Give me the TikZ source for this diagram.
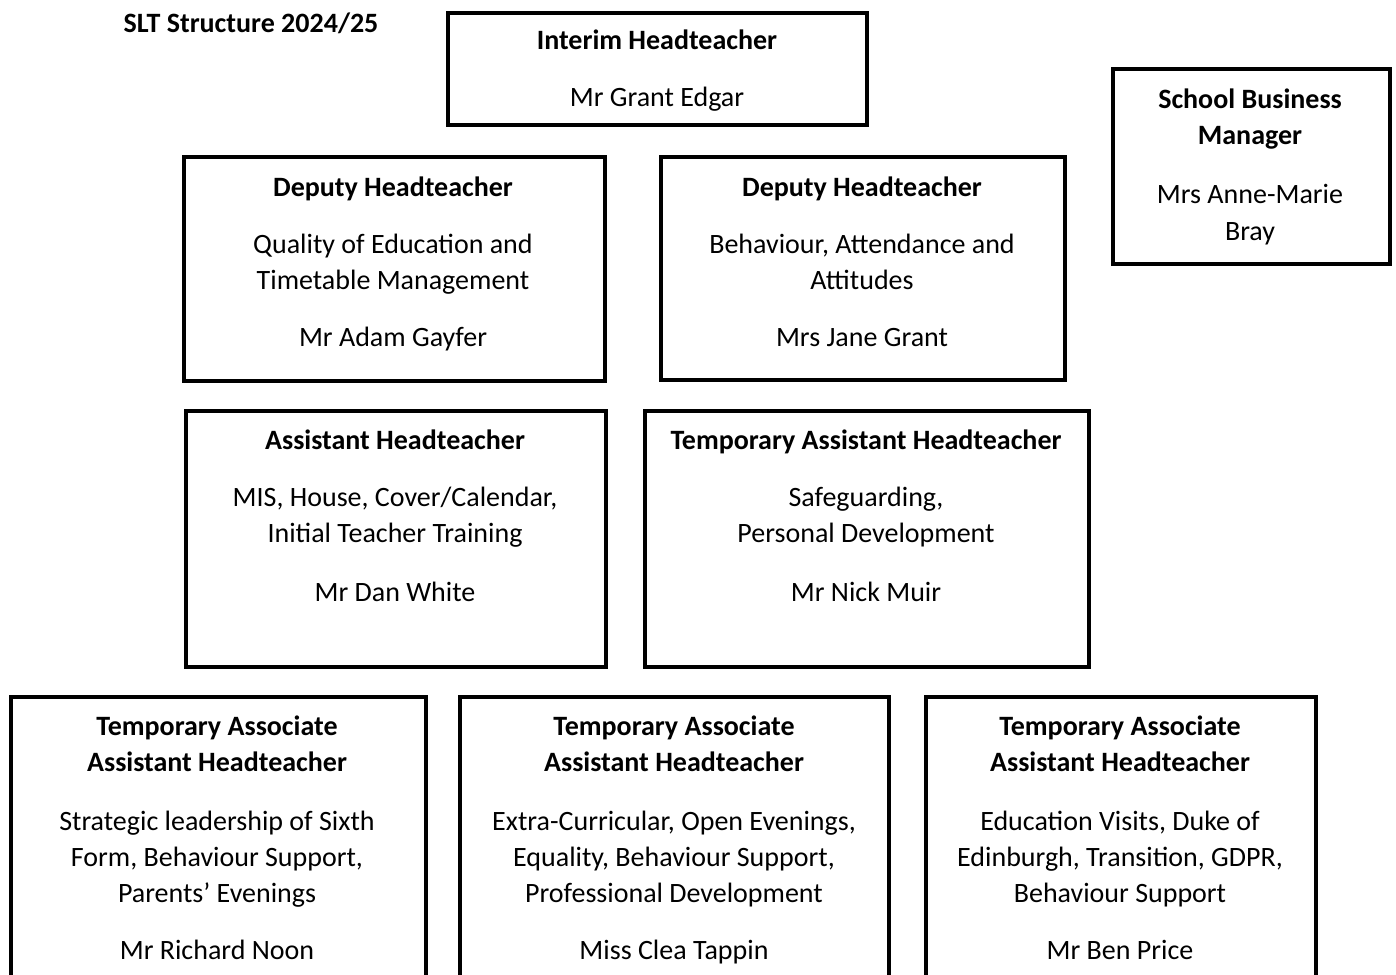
\documentclass[tikz,border=0pt]{standalone}
\usepackage{fontspec}
\setmainfont{Carlito}
\begin{document}
\begin{tikzpicture}[x=0.5pt,y=0.5pt,
  box/.style={draw=black, line width=1.6pt},
  ln/.style={anchor=base, inner sep=0pt, yshift=-0.8pt, font=\fontsize{14}{16}\selectfont},
  hd/.style={ln, font=\fontsize{14}{16}\selectfont\bfseries}]
\useasboundingbox (0,0) rectangle (1396,-974);
% title
\node[hd] (title) at (251,-31) {SLT Structure 2024/25};
% boxes
\draw[box] (448,-13) rectangle (867,-125);
\draw[box] (1113,-69) rectangle (1390,-264);
\draw[box] (184,-157) rectangle (605,-381);
\draw[box] (661,-157) rectangle (1065,-380);
\draw[box] (186,-411) rectangle (606,-667);
\draw[box] (645,-411) rectangle (1089,-667);
\draw[box] (11,-697) rectangle (426,-1000);
\draw[box] (460,-697) rectangle (889,-1000);
\draw[box] (926,-697) rectangle (1316,-1000);
% Interim
\node[hd] (ih1) at (657,-48) {Interim Headteacher};
\node[ln] (ih2) at (657,-105) {Mr Grant Edgar};
% SBM
\node[hd] (sb1) at (1250,-107) {School Business};
\node[hd] (sb2) at (1250,-143) {Manager};
\node[ln] (sb3) at (1250,-202) {Mrs Anne-Marie};
\node[ln] (sb4) at (1250,-239) {Bray};
% Deputy 1
\node[hd] (d11) at (393,-195) {Deputy Headteacher};
\node[ln] (d12) at (393,-252) {Quality of Education and};
\node[ln] (d13) at (393,-288) {Timetable Management};
\node[ln] (d14) at (393,-345) {Mr Adam Gayfer};
% Deputy 2
\node[hd] (d21) at (862,-195) {Deputy Headteacher};
\node[ln] (d22) at (862,-252) {Behaviour, Attendance and};
\node[ln] (d23) at (862,-288) {Attitudes};
\node[ln] (d24) at (862,-345) {Mrs Jane Grant};
% Assistant
\node[hd] (a11) at (395,-448) {Assistant Headteacher};
\node[ln] (a12) at (395,-505) {MIS, House, Cover/Calendar,};
\node[ln] (a13) at (395,-541) {Initial Teacher Training};
\node[ln] (a14) at (395,-600) {Mr Dan White};
% Temp Assistant
\node[hd] (a21) at (866,-448) {Temporary Assistant Headteacher};
\node[ln] (a22) at (866,-505) {Safeguarding,};
\node[ln] (a23) at (866,-541) {Personal Development};
\node[ln] (a24) at (866,-600) {Mr Nick Muir};
% Bottom 1
\node[hd] (b11) at (217,-734) {Temporary Associate};
\node[hd] (b12) at (217,-770) {Assistant Headteacher};
\node[ln] (b13) at (217,-829) {Strategic leadership of Sixth};
\node[ln] (b14) at (217,-865) {Form, Behaviour Support,};
\node[ln] (b15) at (217,-901) {Parents’ Evenings};
\node[ln] (b16) at (217,-958) {Mr Richard Noon};
% Bottom 2
\node[hd] (b21) at (674,-734) {Temporary Associate};
\node[hd] (b22) at (674,-770) {Assistant Headteacher};
\node[ln] (b23) at (674,-829) {Extra-Curricular, Open Evenings,};
\node[ln] (b24) at (674,-865) {Equality, Behaviour Support,};
\node[ln] (b25) at (674,-901) {Professional Development};
\node[ln] (b26) at (674,-958) {Miss Clea Tappin};
% Bottom 3
\node[hd] (b31) at (1120,-734) {Temporary Associate};
\node[hd] (b32) at (1120,-770) {Assistant Headteacher};
\node[ln] (b33) at (1120,-829) {Education Visits, Duke of};
\node[ln] (b34) at (1120,-865) {Edinburgh, Transition, GDPR,};
\node[ln] (b35) at (1120,-901) {Behaviour Support};
\node[ln] (b36) at (1120,-958) {Mr Ben Price};
\end{tikzpicture}
\end{document}
